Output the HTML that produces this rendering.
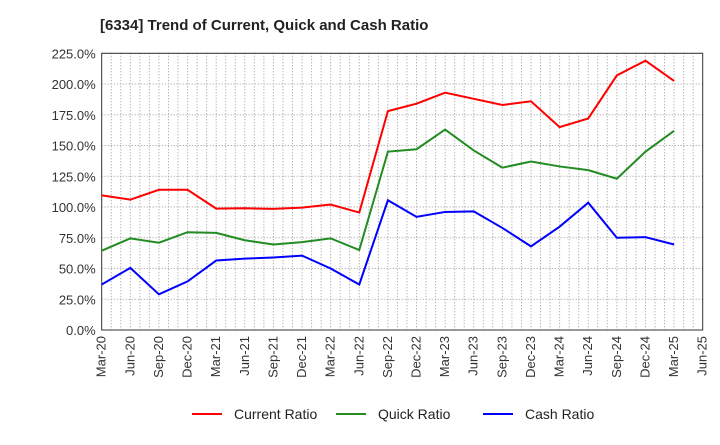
<!DOCTYPE html>
<html><head><meta charset="utf-8"><style>
body{margin:0;background:#fff;font-family:"Liberation Sans",sans-serif}
</style></head><body>
<svg id="c" width="720" height="440" xmlns="http://www.w3.org/2000/svg"></svg>
<script>
const cats=["Mar-20","Jun-20","Sep-20","Dec-20","Mar-21","Jun-21","Sep-21","Dec-21","Mar-22","Jun-22","Sep-22","Dec-22","Mar-23","Jun-23","Sep-23","Dec-23","Mar-24","Jun-24","Sep-24","Dec-24","Mar-25","Jun-25"];
const current=[109.5,106,114,114,98.7,99,98.5,99.5,102,95.5,178,184,193,188,183,186,165,172,207,219,202.5];
const quick=[64.5,74.5,71,79.5,79,73,69.5,71.5,74.5,65,145,147,163,146,132,137,133,130,123,145,162];
const cash=[37,50.5,29,39.5,56.5,58,59,60.5,50,37,105.5,92,96,96.5,83,68,84,103.5,75,75.5,69.5];
const yTicks=[0,25,50,75,100,125,150,175,200,225];
const L=101.7,R=702.7,T=53.3,B=330,yMax=225;
const NS="http://www.w3.org/2000/svg",svg=document.getElementById('c');
const xs=i=>L+(R-L)*i/(cats.length-1);
const ys=v=>B-(B-T)*v/yMax;
function mk(t,a,p){const e=document.createElementNS(NS,t);for(const k in a)e.setAttribute(k,a[k]);(p||svg).appendChild(e);return e;}
const title=mk('text',{x:100,y:30,'font-size':15,'font-weight':'bold',fill:'#222'});
title.textContent='[6334]  Trend of Current, Quick and Cash Ratio';


// minor vertical grid (monthly)
for(let m=1;m<(cats.length-1)*3;m++){const x=L+(R-L)*m/((cats.length-1)*3);
const g=mk('line',{x1:x,x2:x,y1:T,y2:B,stroke:'#999','stroke-dasharray':'1,2','stroke-width':1});

}
yTicks.forEach(v=>{const y=ys(v);
const g=mk('line',{x1:L,x2:R,y1:y,y2:y,stroke:'#999','stroke-dasharray':'1,2','stroke-width':1});


const t=mk('text',{x:L-6,y:y+5,'text-anchor':'end','font-size':13,fill:'#333'});
t.textContent=v.toFixed(1)+'%';

});
cats.forEach((c,i)=>{const x=xs(i);
const t=mk('text',{transform:`translate(${x+4},${B+6}) rotate(-90)`,'text-anchor':'end','font-size':13,fill:'#333'});
t.textContent=c;

});
const frame=mk('rect',{x:L,y:T,width:R-L,height:B-T,fill:'none',stroke:'#333','stroke-width':1});


[[current,'#ff0000','current-ratio-line'],[quick,'#228b22','quick-ratio-line'],[cash,'#0000ff','cash-ratio-line']].forEach(([d,col,n])=>{
const p=mk('polyline',{points:d.map((v,i)=>xs(i)+','+ys(v)).join(' '),fill:'none',stroke:col,'stroke-width':2});

});
[[192,'#ff0000','Current Ratio'],[336,'#228b22','Quick Ratio'],[483,'#0000ff','Cash Ratio']].forEach(([x,col,txt])=>{
const g=mk('g',{});


mk('line',{x1:x,x2:x+30,y1:414,y2:414,stroke:col,'stroke-width':2},g);
const t=mk('text',{x:x+42,y:419,'font-size':14,fill:'#222'},g);t.textContent=txt;});
</script>
</body></html>
